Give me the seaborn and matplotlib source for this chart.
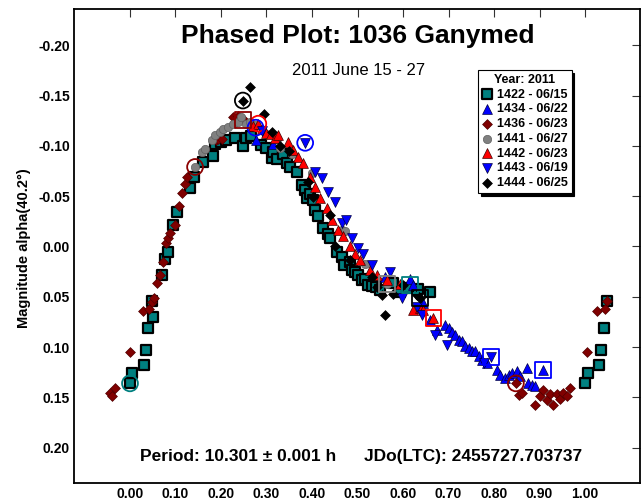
import matplotlib
matplotlib.use('Agg')
import matplotlib.pyplot as plt
import numpy as np
import pandas as pd
import seaborn as sns

# phase / magnitude pairs, one pair of lists per session
s1422_phase = [0.000, 0.005, 0.031, 0.036, 0.040, 0.048, 0.050, 0.070, 0.077, 0.084,
               0.094, 0.103, 0.132, 0.141, 0.161, 0.182, 0.187, 0.200, 0.212, 0.231,
               0.248, 0.256, 0.267, 0.289, 0.300, 0.311, 0.315, 0.322, 0.337, 0.345,
               0.352, 0.366, 0.377, 0.385, 0.388, 0.395, 0.403, 0.407, 0.414, 0.425,
               0.435, 0.440, 0.454, 0.465, 0.470, 0.484, 0.487, 0.495, 0.502, 0.510,
               0.516, 0.524, 0.532, 0.540, 0.549, 0.578, 0.593, 0.609, 0.633, 0.659,
               1.000, 1.007, 1.031, 1.035, 1.042, 1.048]
s1422_mag = [0.136, 0.126, 0.118, 0.103, 0.081, 0.054, 0.070, 0.028, 0.012, 0.005,
             -0.021, -0.034, -0.058, -0.069, -0.084, -0.090, -0.102, -0.104, -0.106, -0.108,
             -0.100, -0.108, -0.110, -0.101, -0.098, -0.088, -0.094, -0.087, -0.092, -0.083,
             -0.079, -0.074, -0.061, -0.056, -0.048, -0.052, -0.046, -0.036, -0.030, -0.018,
             -0.012, -0.008, 0.005, 0.010, 0.018, 0.015, 0.023, 0.025, 0.028, 0.033,
             0.032, 0.038, 0.039, 0.040, 0.043, 0.036, 0.045, 0.041, 0.042, 0.045,
             0.136, 0.126, 0.118, 0.103, 0.081, 0.054]

s1434_phase = [0.278, 0.315, 0.560, 0.615, 0.623, 0.645, 0.659, 0.674, 0.692, 0.700,
               0.707, 0.714, 0.722, 0.729, 0.736, 0.744, 0.751, 0.758, 0.766, 0.773,
               0.784, 0.806, 0.813, 0.824, 0.832, 0.839, 0.850, 0.857, 0.872, 0.875,
               0.883, 0.890, 0.907]
s1434_mag = [-0.106, -0.102, 0.030, 0.032, 0.038, 0.056, 0.073, 0.083, 0.078, 0.081,
             0.085, 0.088, 0.093, 0.094, 0.099, 0.101, 0.104, 0.104, 0.109, 0.113,
             0.116, 0.123, 0.128, 0.131, 0.128, 0.126, 0.124, 0.129, 0.121, 0.136,
             0.138, 0.139, 0.123]

s1436_phase = [-0.045, -0.039, -0.034, 0.001, 0.028, 0.042, 0.048, 0.053, 0.059, 0.066,
               0.073, 0.079, 0.084, 0.088, 0.099, 0.108, 0.114, 0.121, 0.125, 0.190,
               0.194, 0.202, 0.227, 0.238, 0.250, 0.848, 0.855, 0.861, 0.890, 0.900,
               0.908, 0.916, 0.923, 0.930, 0.938, 0.945, 0.952, 0.960, 0.967, 1.004,
               1.027, 1.045, 1.049]
s1436_mag = [0.146, 0.149, 0.141, 0.105, 0.064, 0.062, 0.055, 0.051, 0.036, 0.028,
             0.015, -0.003, -0.008, -0.013, -0.021, -0.040, -0.053, -0.062, -0.069, -0.106,
             -0.107, -0.107, -0.129, -0.130, -0.126, 0.136, 0.148, 0.146, 0.158, 0.149,
             0.143, 0.153, 0.147, 0.158, 0.147, 0.152, 0.146, 0.149, 0.141, 0.105,
             0.064, 0.062, 0.054]

s1441_phase = [0.143, 0.158, 0.165, 0.180, 0.187, 0.198, 0.205, 0.216, 0.227, 0.238,
               0.245, 0.256, 0.264, 0.275, 0.300, 0.322, 0.330, 0.355, 0.399, 0.465,
               0.473, 0.516, 0.564]
s1441_mag = [-0.079, -0.094, -0.097, -0.106, -0.111, -0.114, -0.117, -0.119, -0.122, -0.124,
             -0.129, -0.122, -0.124, -0.121, -0.112, -0.107, -0.098, -0.092, -0.073, -0.016,
             -0.015, 0.017, 0.037]

s1442_phase = [0.270, 0.282, 0.290, 0.300, 0.310, 0.318, 0.326, 0.348, 0.359, 0.370,
               0.381, 0.396, 0.407, 0.418, 0.432, 0.443, 0.458, 0.469, 0.484, 0.495,
               0.505, 0.527, 0.542, 0.564, 0.593, 0.623, 0.637, 0.645, 0.667]
s1442_mag = [-0.120, -0.122, -0.117, -0.113, -0.112, -0.108, -0.111, -0.104, -0.096, -0.089,
             -0.083, -0.069, -0.059, -0.048, -0.038, -0.026, -0.016, -0.010, 0.000, 0.007,
             0.013, 0.023, 0.028, 0.033, 0.037, 0.063, 0.061, 0.063, 0.071]

s1443_phase = [0.290, 0.385, 0.407, 0.421, 0.436, 0.451, 0.465, 0.475, 0.487, 0.500,
               0.513, 0.531, 0.571, 0.597, 0.630, 0.641, 0.670, 0.696, 0.777, 0.793]
s1443_mag = [-0.115, -0.103, -0.074, -0.068, -0.054, -0.044, -0.023, -0.026, -0.008, 0.002,
             0.007, 0.018, 0.025, 0.051, 0.060, 0.068, 0.088, 0.098, 0.116, 0.110]

s1444_phase = [0.248, 0.264, 0.295, 0.311, 0.330, 0.350, 0.392, 0.403, 0.440, 0.451,
               0.484, 0.531, 0.542, 0.553, 0.560, 0.579, 0.601, 0.630, 0.637]
s1444_mag = [-0.145, -0.158, -0.132, -0.114, -0.100, -0.095, -0.064, -0.049, -0.031, 0.000,
             0.013, 0.030, 0.040, 0.048, 0.068, 0.047, 0.038, 0.048, 0.051]

# open rings / boxes round some points
hl_phase = [0.248, 0.143, 0.000, 0.385, 0.282, 0.276, 0.848,
            0.248, 0.564, 0.615, 0.637, 0.667, 0.793, 0.907]
hl_mag = [-0.145, -0.079, 0.136, -0.103, -0.122, -0.118, 0.136,
          -0.126, 0.037, 0.038, 0.051, 0.071, 0.110, 0.123]
hl_marker = ['o', 'o', 'o', 'o', 'o', 'o', 'o', 's', 's', 's', 's', 's', 's', 's']
hl_color = ['black', 'darkred', 'teal', 'blue', 'red', 'blue', 'darkred',
            'darkred', 'gray', 'teal', 'black', 'red', 'blue', 'blue']

x_ticks = [0.0, 0.1, 0.2, 0.3, 0.4, 0.5, 0.6, 0.7, 0.8, 0.9, 1.0]
y_ticks = [-0.20, -0.15, -0.10, -0.05, 0.0, 0.05, 0.10, 0.15, 0.20]

series = [
    ('1422 - 06/15', s1422_phase, s1422_mag, 's', '#008080', 'black', 50, 1.6),
    ('1434 - 06/22', s1434_phase, s1434_mag, '^', '#0000ff', '#000040', 50, 0.5),
    ('1436 - 06/23', s1436_phase, s1436_mag, 'D', '#800000', '#500000', 25, 0.5),
    ('1441 - 06/27', s1441_phase, s1441_mag, 'o', '#808080', '#606060', 36, 0.5),
    ('1442 - 06/23', s1442_phase, s1442_mag, '^', '#ff0000', '#400000', 50, 0.5),
    ('1443 - 06/19', s1443_phase, s1443_mag, 'v', '#0000ff', '#000040', 50, 0.5),
    ('1444 - 06/25', s1444_phase, s1444_mag, 'D', '#000000', '#000000', 25, 0.5),
]

sns.set_style('white')
plt.rcParams['font.family'] = ['Liberation Sans', 'DejaVu Sans']
plt.rcParams['text.color'] = 'black'

fig = plt.figure(figsize=(6.42, 5.03), dpi=100)
ax = fig.add_axes([0.1153, 0.0398, 0.8817, 0.9424])

for label, ph, mag, mk, fc, ec, size, lw in series:
    df = pd.DataFrame({'phase': ph, 'mag': mag})
    sns.scatterplot(data=df, x='phase', y='mag', marker=mk, color=fc,
                    edgecolor=ec, linewidth=lw, s=size, label=label, ax=ax)

for x, y, mk, c in zip(hl_phase, hl_mag, hl_marker, hl_color):
    ax.scatter(x, y, marker=mk, s=130, facecolors='none', edgecolors=c, linewidths=1.3)

ax.set_xlim(-0.123, 1.121)
ax.set_ylim(0.235, -0.236)
ax.set_xticks(x_ticks)
ax.set_yticks(y_ticks)
ax.set_xticklabels([f'{v:.2f}' for v in x_ticks], fontweight='bold')
ax.set_yticklabels([f'{v:.2f}' for v in y_ticks], fontweight='bold')
ax.tick_params(direction='in', length=6, width=0.8, color='#333333',
               top=True, right=True, labelsize=10, pad=3, labelcolor='black')
for sp in ax.spines.values():
    sp.set_color('black')
    sp.set_linewidth(1.3)
ax.set_xlabel('')
ax.set_ylabel('')

fig.text(0.037, 0.507, 'Magnitude alpha(40.2°)', rotation=90, ha='center', va='center',
         fontsize=10.5, fontweight='bold')

ax.text(0.502, 0.943, 'Phased Plot: 1036 Ganymed', transform=ax.transAxes,
        ha='center', va='center', fontsize=19, fontweight='bold')
ax.text(0.502, 0.871, '2011 June 15 - 27', transform=ax.transAxes,
        ha='center', va='center', fontsize=12)
ax.text(0.117, 0.055, 'Period: 10.301 \u00b1 0.001 h', transform=ax.transAxes,
        ha='left', va='center', fontsize=12.5, fontweight='bold')
ax.text(0.512, 0.055, 'JDo(LTC): 2455727.703737', transform=ax.transAxes,
        ha='left', va='center', fontsize=12.5, fontweight='bold')

leg = ax.legend(loc='upper left', bbox_to_anchor=(0.714, 0.871), title='Year: 2011',
                fancybox=False, framealpha=1, edgecolor='black',
                shadow={'color': 'black', 'alpha': 1},
                prop={'weight': 'bold', 'size': 9}, handlelength=0.8,
                handletextpad=0.4, labelspacing=0.22, borderpad=0.3, borderaxespad=0)
leg.get_title().set_fontweight('bold')
leg.get_title().set_fontsize(9)
leg.get_frame().set_linewidth(0.8)

fig.savefig('out.png', dpi=100)
